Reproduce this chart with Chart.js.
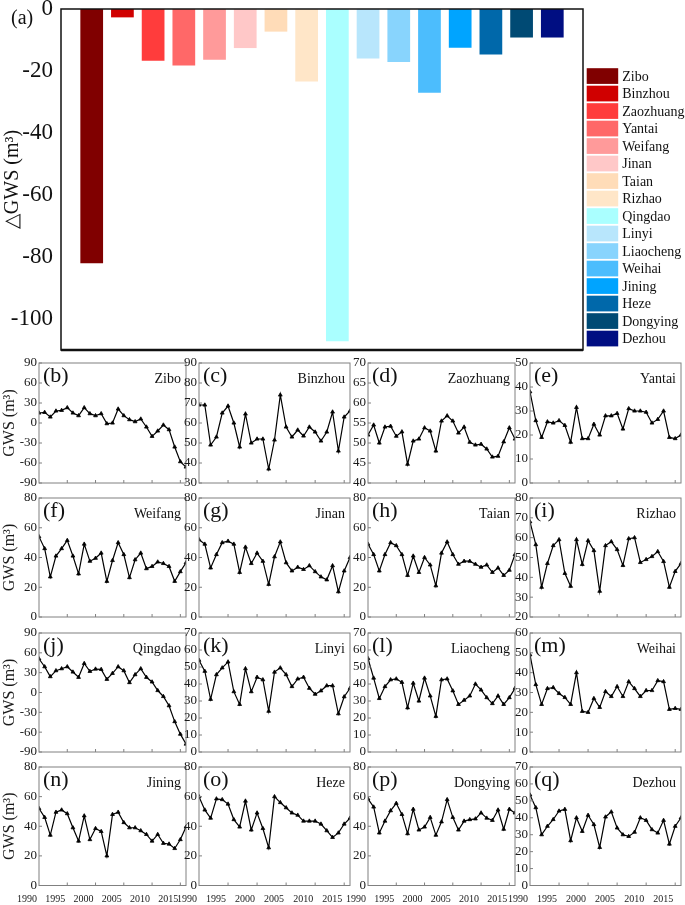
<!DOCTYPE html>
<html lang="en">
<head>
<meta charset="UTF-8" />
<title>GWS change by city, Shandong</title>
<script src="https://cdn.jsdelivr.net/npm/chart.js@4"></script>
<style>
  body { margin: 0; background: #fff; }
  #wrap { position: relative; width: 685px; height: 905px; overflow: hidden; }
  #wrap canvas { position: absolute; }
</style>
</head>
<body>
<div id="wrap"></div>
<script>
// ---- data ----
const cities = ['Zibo', 'Binzhou', 'Zaozhuang', 'Yantai', 'Weifang', 'Jinan', 'Taian', 'Rizhao',
  'Qingdao', 'Linyi', 'Liaocheng', 'Weihai', 'Jining', 'Heze', 'Dongying', 'Dezhou'];
const panelLetters = ['b', 'c', 'd', 'e', 'f', 'g', 'h', 'i', 'j', 'k', 'l', 'm', 'n', 'o', 'p', 'q'];
const barValues = [-82, -2.7, -16.7, -18.2, -16.4, -12.6, -7.3, -23.4, -107.2, -16, -17.1, -27, -12.5, -14.7, -9.2, -9.2];
const barColors = ['#800000', '#d00000', '#ff3c3c', '#ff6868', '#ff9a9a', '#ffc8c8', '#ffdcb8', '#ffe6c8',
  '#aaffff', '#b8e6fc', '#88d4fd', '#4cbdfd', '#00a4ff', '#0068aa', '#004a74', '#000e82'];
const topTicks = [0, -20, -40, -60, -80, -100];

const years = [1990, 1991, 1992, 1993, 1994, 1995, 1996, 1997, 1998, 1999, 2000, 2001, 2002, 2003,
  2004, 2005, 2006, 2007, 2008, 2009, 2010, 2011, 2012, 2013, 2014, 2015, 2016];
const xTickYears = [1990, 1995, 2000, 2005, 2010, 2015];

const gwsZibo = [15, 16, 9, 18, 19, 23, 15, 11, 23, 14, 11, 14, -1, 0, 21, 11, 5, 2, 6, -6, -20, -12, -3, -10, -36, -58, -66];
const gwsBinzhou = [69, 69, 49, 53, 65, 68.5, 60, 48, 64.5, 50, 52, 52, 37, 51.5, 74, 58, 53, 56.5, 53.5, 58, 55.5, 51, 55.5, 65.5, 46, 63, 66];
const gwsZaozhuang = [52, 54.5, 50, 54, 54.2, 51.7, 52.8, 44.7, 50.5, 51, 53.8, 53, 48, 55.5, 56.8, 55.5, 52.5, 54, 50.2, 49.5, 49.7, 48.5, 46.5, 46.7, 50.3, 53.8, 51];
const gwsYantai = [38, 26, 19, 25.5, 25, 26, 24, 17, 31.5, 18.5, 18.5, 24.5, 20, 28, 28, 29, 22.5, 31, 30, 30, 29.5, 25, 26.5, 30, 19, 18.5, 20];
const gwsWeifang = [54, 46, 27, 41, 46, 51.5, 41, 29, 49, 37.5, 39.5, 43, 24, 38, 50, 42, 26.5, 38.5, 43, 32.5, 34, 37, 36, 34, 24, 30.5, 36.5];
const gwsJinan = [52, 49, 33, 42, 50, 51, 49, 30, 47, 36, 43, 37.5, 22, 40.5, 50.5, 36.5, 31, 33.5, 32, 34.5, 30.5, 27, 25, 34.5, 17, 31, 40];
const gwsTaian = [49, 42, 31, 42, 50, 48, 42, 28, 41, 30, 40, 35, 21, 43, 50.5, 42, 35.5, 37.5, 37.5, 35.5, 33.5, 35, 30, 33, 28, 31.5, 42];
const gwsRizhao = [68, 56.5, 35, 47, 56, 59, 42, 35.5, 59, 46.5, 58.5, 53.5, 33, 56, 58, 54, 46, 59.5, 60, 47.5, 49, 50.5, 53, 48, 35, 43, 47];
const gwsQingdao = [51, 39, 24, 33, 36, 39, 31, 23, 44, 32, 35.5, 35, 20, 29, 39, 33, 15, 27, 36, 23, 16, 3, -6, -20, -44, -63, -78];
const gwsLinyi = [54, 47.5, 31, 45.5, 49.5, 53, 35.5, 28, 49, 35.5, 44, 42.5, 24, 47, 49.5, 45.5, 38.5, 43, 44, 37.5, 34, 36, 39, 39, 22.5, 32.5, 37.5];
const gwsLiaocheng = [55, 43.5, 31.5, 38.5, 42.5, 43, 41, 26, 40.5, 30, 43.5, 33, 21, 42.5, 43, 36, 28, 30.5, 33, 40, 36.5, 32, 28.5, 33, 28, 32, 37.5];
const gwsWeihai = [49, 34, 24, 32, 32.5, 29.5, 27.5, 24, 40, 20.5, 20, 27, 22.5, 30.5, 28, 33, 28, 35.5, 32, 28, 31, 31, 36, 35.5, 21.5, 22, 21.5];
const gwsJining = [52, 46, 34, 49.5, 51, 48.5, 39, 30, 47, 31, 38.5, 36.5, 20, 48, 49.5, 42.5, 39, 39, 37, 34.5, 30, 34.5, 28.5, 28, 25, 31, 39.5];
const gwsHeze = [60, 51, 45.5, 58.5, 58, 55, 44.5, 39.5, 57, 37.5, 49, 38.5, 25.5, 60, 56, 52.5, 49, 47.5, 43.5, 43.5, 43.5, 41.5, 37, 32.5, 35.5, 41.5, 45.5];
const gwsDongying = [58.5, 53, 35.5, 43.5, 50.5, 55.5, 48, 35, 51.5, 37.5, 39.5, 46, 34, 43, 58, 46, 37.5, 43.5, 44.5, 45, 49, 45.5, 44, 51, 38, 51.5, 49];
const gwsDezhou = [53.5, 46, 30, 35, 39, 44, 45, 26.5, 40, 32, 41.5, 36, 22.5, 40.5, 43.5, 34, 30, 29, 31.5, 40, 38.5, 33, 31, 38.5, 24.5, 35, 40];

// y-axis range / tick step of each small panel (same order as cities)
const yMin = [-90, 30, 40, 0, 0, 0, 0, 20, -90, 0, 0, 0, 0, 0, 0, 0];
const yMax = [90, 90, 70, 50, 80, 80, 80, 80, 90, 70, 70, 60, 80, 80, 80, 70];
const yStep = [30, 10, 5, 10, 20, 20, 20, 10, 30, 10, 10, 10, 20, 20, 20, 10];

const series = [gwsZibo, gwsBinzhou, gwsZaozhuang, gwsYantai, gwsWeifang, gwsJinan, gwsTaian, gwsRizhao,
  gwsQingdao, gwsLinyi, gwsLiaocheng, gwsWeihai, gwsJining, gwsHeze, gwsDongying, gwsDezhou];

// ---- page layout ----
const SERIF = '"Liberation Serif", "Times New Roman", serif';
Chart.defaults.font.family = SERIF;
Chart.defaults.color = '#1a1a1a';

const wrap = document.getElementById('wrap');
function addCanvas(left, top, w, h) {
  const c = document.createElement('canvas');
  c.width = w; c.height = h;
  c.style.left = left + 'px'; c.style.top = top + 'px';
  wrap.appendChild(c);
  return c;
}

// ---- (a) bar chart ----
const barFrame = {
  id: 'barFrame',
  afterDraw(chart) {
    const { ctx, chartArea: a } = chart;
    ctx.save();
    ctx.strokeStyle = '#111';
    ctx.lineWidth = 1.5;
    ctx.strokeRect(a.left, a.top, a.right - a.left, a.bottom - a.top);
    ctx.lineWidth = 2.5;
    ctx.beginPath(); ctx.moveTo(a.left, a.bottom); ctx.lineTo(a.right, a.bottom); ctx.stroke();
    // legend boxes right of the frame
    const boxW = 31.5, boxH = 15.7, pitch = 17.5;
    const x0 = a.right + 3.7;
    const y0 = a.bottom - 3.6 - (cities.length - 1) * pitch - boxH;
    ctx.font = '14px ' + SERIF;
    ctx.textBaseline = 'middle';
    ctx.textAlign = 'left';
    cities.forEach((name, i) => {
      const y = y0 + i * pitch;
      ctx.fillStyle = barColors[i];
      ctx.fillRect(x0, y, boxW, boxH);
      ctx.fillStyle = '#111';
      ctx.fillText(name, x0 + boxW + 4, y + boxH / 2 + 1);
    });
    ctx.font = '20px ' + SERIF;
    ctx.fillText('(a)', 11, 19);
    ctx.restore();
  }
};

new Chart(addCanvas(0, 0, 685, 352), {
  type: 'bar',
  data: {
    datasets: [{
      data: barValues.map((v, i) => ({ x: i + 1, y: v })),
      backgroundColor: barColors,
      borderWidth: 0,
      barPercentage: 0.74,
      categoryPercentage: 1
    }]
  },
  options: {
    responsive: false,
    animation: false,
    layout: { padding: { top: 9, right: 102, bottom: 2, left: 0 } },
    plugins: { legend: { display: false }, tooltip: { enabled: false } },
    scales: {
      x: { type: 'linear', min: 0, max: 17, offset: false, display: false, ticks: { stepSize: 1 } },
      y: {
        min: -110, max: 0,
        grid: { display: false, drawTicks: false },
        border: { display: false },
        afterBuildTicks: s => { s.ticks = topTicks.map(v => ({ value: v })); },
        afterFit: s => { s.width = 61; s.paddingTop = 0; s.paddingBottom = 0; },
        ticks: { font: { size: 23 }, color: '#111', padding: 8 },
        title: { display: true, text: '△GWS (m³)', font: { size: 20 }, color: '#111', padding: { top: 1, bottom: 0 } }
      }
    }
  },
  plugins: [barFrame]
});

// ---- (b)-(q) time series panels ----
const colLeft = [39, 199, 368, 530];
const colRight = [185.5, 350, 515, 681];
const axisW = [39, 16, 16, 16];
const rowTop = [363, 498, 633, 767];
const rowBottom = [483, 616.5, 752, 885.5];
const EXTRA_LEFT = 16; // room for the shifted "1990" label in the bottom row

const panelDecor = {
  id: 'panelDecor',
  afterDraw(chart, args, opts) {
    const { ctx, chartArea: a, scales } = chart;
    ctx.save();
    ctx.strokeStyle = '#808080';
    ctx.lineWidth = 1;
    ctx.strokeRect(a.left, a.top, a.right - a.left, a.bottom - a.top);
    ctx.beginPath();
    xTickYears.slice(1).forEach(yr => {
      const px = scales.x.getPixelForValue(yr);
      ctx.moveTo(px, a.bottom); ctx.lineTo(px, a.bottom - 3);
    });
    scales.y.ticks.forEach(t => {
      const py = scales.y.getPixelForValue(t.value);
      ctx.moveTo(a.left, py); ctx.lineTo(a.left + 3, py);
    });
    ctx.stroke();
    ctx.fillStyle = '#111';
    ctx.textBaseline = 'middle';
    ctx.textAlign = 'left';
    ctx.font = '22px ' + SERIF;
    ctx.fillText('(' + opts.letter + ')', a.left + 4, a.top + 13);
    ctx.font = '14px ' + SERIF;
    ctx.textAlign = 'right';
    ctx.fillText(opts.name, a.right - 5, a.top + 16);
    ctx.restore();
  }
};

cities.forEach((name, k) => {
  const r = Math.floor(k / 4), c = k % 4;
  const isBottom = r === 3;
  const padL = isBottom && c > 0 ? EXTRA_LEFT : 0;
  const left = colLeft[c] - axisW[c] - padL;
  const top = rowTop[r] - 9;
  const w = Math.round(colRight[c] - left + 6);
  const h = isBottom ? 905 - top : Math.round(rowBottom[r] - top + 9);

  new Chart(addCanvas(left, top, w, h), {
    type: 'line',
    data: {
      labels: years,
      datasets: [{
        data: series[k],
        borderColor: '#000',
        borderWidth: 1.2,
        pointStyle: 'triangle',
        pointRadius: 2.2,
        pointBackgroundColor: '#000',
        pointBorderColor: '#000',
        pointBorderWidth: 0.8,
        tension: 0
      }]
    },
    options: {
      responsive: false,
      animation: false,
      layout: { padding: { top: 9, right: 6, bottom: isBottom ? 0 : 9, left: padL } },
      plugins: {
        legend: { display: false },
        tooltip: { enabled: false },
        panelDecor: { letter: panelLetters[k], name: name }
      },
      scales: {
        x: {
          type: 'linear', min: 1990, max: 2016,
          display: isBottom,
          grid: { display: false, drawTicks: false },
          border: { display: false },
          afterBuildTicks: s => { s.ticks = xTickYears.map(v => ({ value: v })); },
          afterFit: s => {
            if (!isBottom) return;
            s.height = 905 - rowBottom[r];
            s.paddingLeft = 0; s.paddingRight = 0;
          },
          ticks: {
            font: { size: 10 }, color: '#1a1a1a', padding: 8,
            autoSkip: false, maxRotation: 0, labelOffset: -12,
            callback: v => String(v)
          }
        },
        y: {
          min: yMin[k], max: yMax[k],
          grid: { display: false, drawTicks: false },
          border: { display: false },
          afterFit: s => { s.width = axisW[c]; s.paddingTop = 0; s.paddingBottom = 0; },
          ticks: { stepSize: yStep[k], autoSkip: false, font: { size: 13 }, color: '#1a1a1a', padding: 2 },
          title: {
            display: c === 0, text: 'GWS (m³)', font: { size: 16 }, color: '#1a1a1a',
            padding: { top: 0, bottom: 0 }
          }
        }
      }
    },
    plugins: [panelDecor]
  });
});
</script>
</body>
</html>
